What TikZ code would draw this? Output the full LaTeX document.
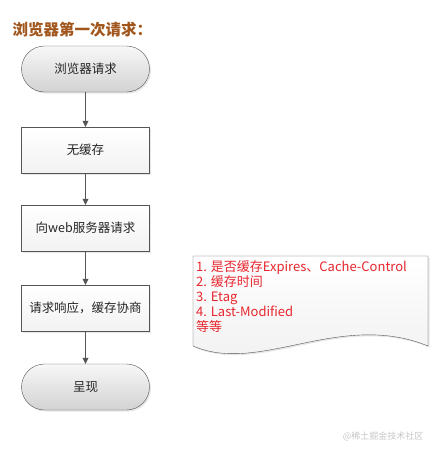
\documentclass[tikz,border=0pt]{standalone}
\usepackage{fontspec}
\setmainfont{Noto Sans CJK SC}
\usetikzlibrary{arrows.meta, shapes.misc, shadows}
\definecolor{titlebrown}{HTML}{A0561C}
\definecolor{notered}{HTML}{E8262E}
\definecolor{edgegray}{HTML}{555555}

\begin{document}
\begin{tikzpicture}[x=1pt, y=-1pt, font=\fontsize{12.5}{15}\selectfont,
  flow/.style={draw=edgegray, minimum width=128pt, minimum height=46pt, inner sep=0pt, text=black!85},
  softshadow/.style={drop shadow={shadow xshift=1.5pt, shadow yshift=-1.5pt, opacity=0.2}},
  terminal/.style={flow, rounded rectangle, top color=gray!6, bottom color=gray!35, softshadow},
  stepbox/.style={flow, rectangle, top color=white, bottom color=gray!10, softshadow},
  link/.style={draw=edgegray, -{Triangle[length=6pt, width=6pt]}}]
\useasboundingbox (0,0) rectangle (438,453);
% ---------- title ----------
\node[anchor=west, text=titlebrown, font=\fontsize{15.5}{18}\selectfont\bfseries] (title) at (9,30) {浏览器第一次请求：};
% ---------- flow ----------
\node[terminal] (browser) at (85.5,69)  {浏览器请求};
\node[stepbox]  (nocache) at (85.5,150) {无缓存};
\node[stepbox]  (server)  at (85.5,228) {向web服务器请求};
\node[stepbox]  (nego)    at (85.5,308) {请求响应，缓存协商};
\node[terminal] (show)    at (85.5,387) {呈现};
\draw[link] (browser.south) -- (nocache.north);
\draw[link] (nocache.south) -- (server.north);
\draw[link] (server.south) -- (nego.north);
\draw[link] (nego.south) -- (show.north);
% ---------- note (document shape) ----------
\draw[draw=edgegray, top color=white, bottom color=gray!12, softshadow]
  (193,256) -- (428,256) -- (428,346) .. controls (340,310) and (260,375) .. (193,346) -- cycle;
\node[anchor=north west, align=left, text=notered, inner sep=0pt, font=\fontsize{13}{15}\selectfont] (note) at (196,260)
  {1. 是否缓存Expires、Cache-Control\\2. 缓存时间\\3. Etag\\4. Last-Modified\\等等};
% watermark
\node[anchor=east, text=gray!45, font=\fontsize{9}{11}\selectfont] (mark) at (427,436) {@稀土掘金技术社区};
\end{tikzpicture}
\end{document}
